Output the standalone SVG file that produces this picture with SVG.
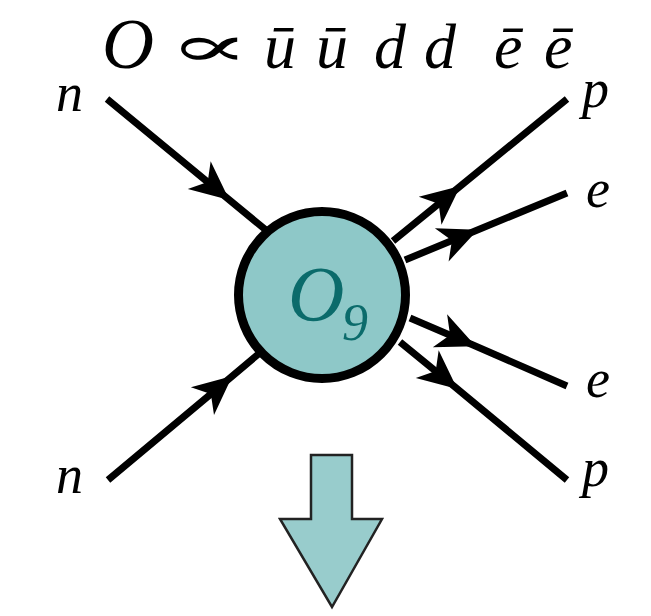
<svg xmlns="http://www.w3.org/2000/svg" width="651" height="616" viewBox="0 0 651 616">
<style>
.it{font-family:'Liberation Serif','DejaVu Serif',serif;font-style:italic}
.lbl{font-size:54px}
.line{fill:none;stroke:#000;stroke-width:7;marker-mid:url(#ah)}
</style>
<defs>
<marker id="ah" markerUnits="userSpaceOnUse" markerWidth="1" markerHeight="1" refX="0" refY="0" orient="auto" overflow="visible">
<path d="M3,0 L-36,-18 L-25,0 L-36,18 Z" fill="#000"/>
</marker>
</defs>
<rect width="651" height="616" fill="#fff"/>
<g id="title" class="it">
<text font-size="72" x="102" y="68">O</text>
<text font-style="normal" font-size="58" transform="translate(168,66) scale(2.1,1)">∝</text>
<text font-size="64" y="68"><tspan x="264">ū</tspan><tspan x="316">ū</tspan><tspan x="374">d</tspan><tspan x="424">d</tspan><tspan x="494">ē</tspan><tspan x="544">ē</tspan></text>
</g>
<g id="connectors">
<path class="line" d="M107,99 L227,198 L272,235"/>
<path class="line" d="M108,480 L230,378 L262,351"/>
<path class="line" d="M393,241 L458,188 L567,99"/>
<path class="line" d="M405,260 L475,231 L567,193"/>
<path class="line" d="M410,318 L473,345 L567,386"/>
<path class="line" d="M400,342 L455,387 L567,480"/>
</g>
<g id="vertex">
<circle cx="322" cy="295" r="83.5" fill="#8ec8c8" stroke="#000" stroke-width="9"/>
<text class="it" font-size="78" x="288" y="320" fill="#0b6b6b">O</text>
<text class="it" font-style="normal" font-size="52" x="342" y="340" fill="#0b6b6b">9</text>
</g>
<g class="it lbl">
<g id="n1"><text x="56" y="111">n</text></g>
<g id="n2"><text x="56" y="493">n</text></g>
<g id="p1"><text x="582" y="107">p</text></g>
<g id="e1"><text x="586" y="207">e</text></g>
<g id="e2"><text x="586" y="397">e</text></g>
<g id="p2"><text x="582" y="486">p</text></g>
</g>
<g id="down-arrow">
<path d="M311,455 L352,455 L352,519 L382,519 L332,607 L280,519 L311,519 Z" fill="#98cccc" stroke="#222" stroke-width="2.5" stroke-linejoin="miter"/>
</g>
</svg>
